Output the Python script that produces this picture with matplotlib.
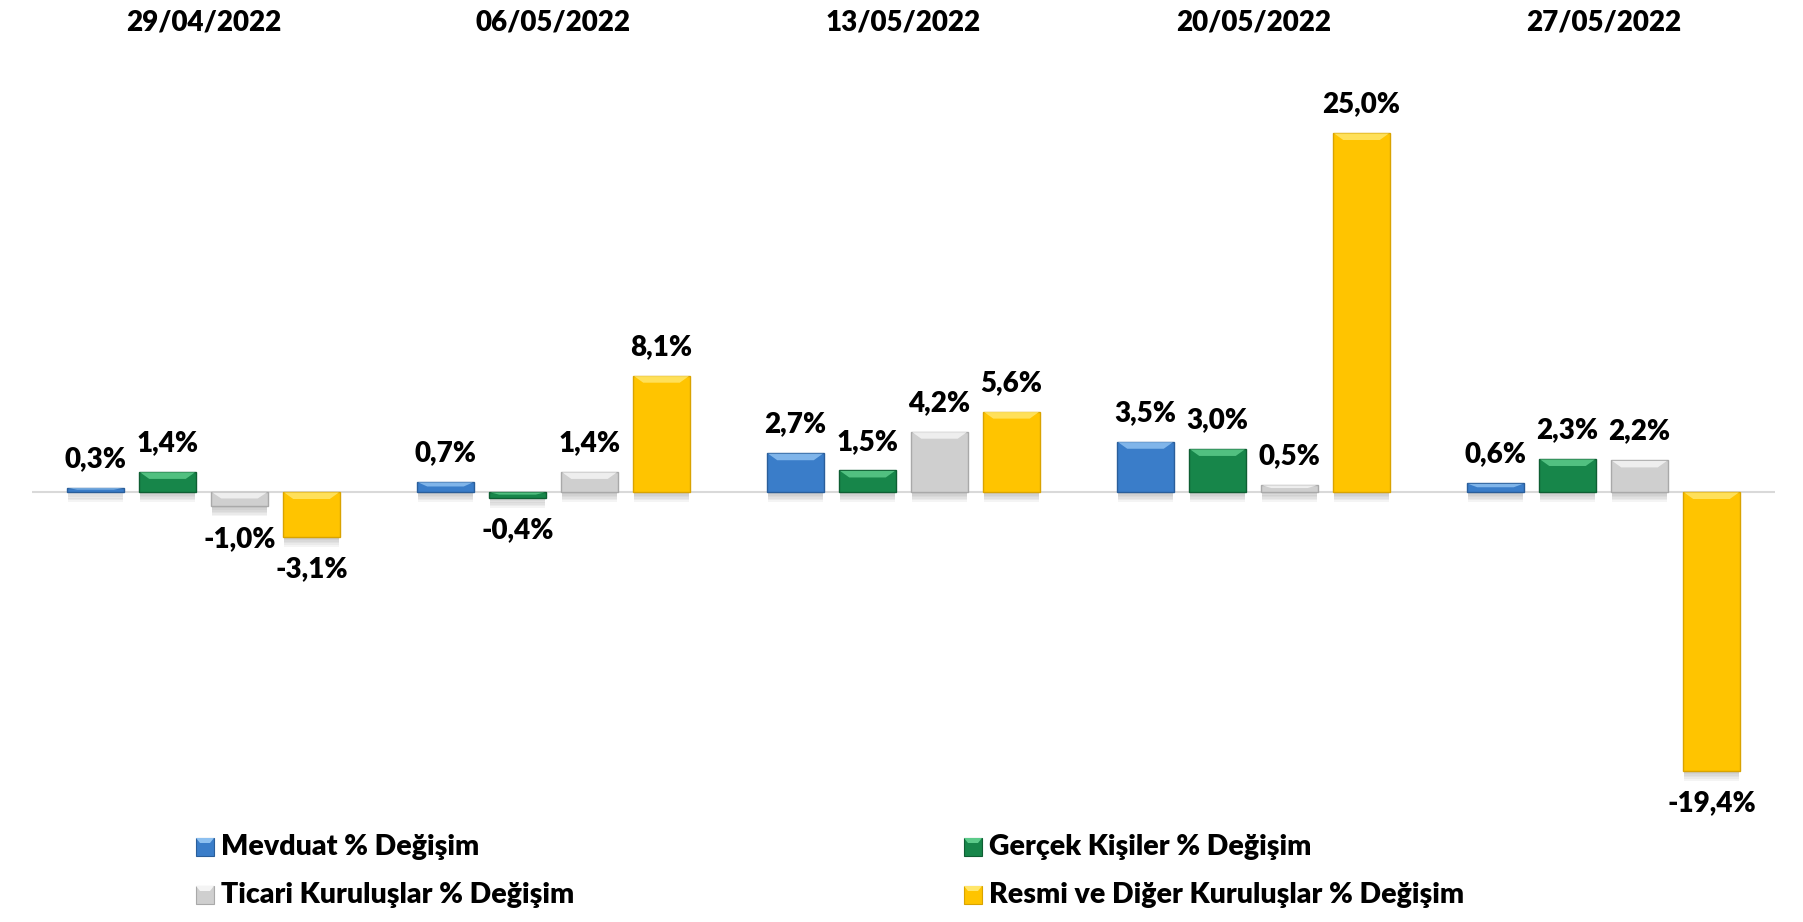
import matplotlib
matplotlib.use("Agg")
import matplotlib.pyplot as plt
from matplotlib.patches import Polygon, Rectangle
import numpy as np

dates = ["29/04/2022", "06/05/2022", "13/05/2022", "20/05/2022", "27/05/2022"]
series_names = ["Mevduat % Değişim", "Gerçek Kişiler % Değişim",
                "Ticari Kuruluşlar % Değişim", "Resmi ve Diğer Kuruluşlar % Değişim"]
mevduat = [0.3, 0.7, 2.7, 3.5, 0.6]
gercek = [1.4, -0.4, 1.5, 3.0, 2.3]
ticari = [-1.0, 1.4, 4.2, 0.5, 2.2]
resmi = [-3.1, 8.1, 5.6, 25.0, -19.4]

colors = ["#3A7DC9", "#17864A", "#CFCFCF", "#FFC400"]
light = ["#8DC0F0", "#5CCB8A", "#F4F4F4", "#FFE66A"]
dark = ["#2A5E9A", "#0F5E33", "#A9A9A9", "#D9A300"]

W, H = 1803, 922
fig = plt.figure(figsize=(W / 100, H / 100), dpi=100)
plt.rcParams['font.family'] = ['Lato', 'DejaVu Sans']
FW = 800

top_px, bot_px = 100, 800
ax = fig.add_axes([32 / W, 1 - bot_px / H, (1775 - 32) / W, (bot_px - top_px) / H])
ppu = 14.36
zero_px = 492
ax.set_ylim(-(bot_px - zero_px) / ppu, (zero_px - top_px) / ppu)
ax.set_xlim(-0.49, 4.49)
ax.axis("off")

ax.axhline(0, color="#D9D9D9", lw=1.5, zorder=1)

x = np.arange(len(dates))
step = 72 / 350
bw = 57 / 350
all_series = [mevduat, gercek, ticari, resmi]

for k, vals in enumerate(all_series):
    pos = x + (k - 1.5) * step
    # soft shadow
    for j, (p, v) in enumerate(zip(pos, vals)):
        for s in range(6):
            off = (2 + s * 1.6) / ppu
            ax.add_patch(Rectangle((p - bw / 2 + 0.004, min(0, v) - off), bw - 0.008,
                                   abs(v), facecolor="#707070", alpha=0.07,
                                   edgecolor="none", zorder=2))
    ax.bar(pos, vals, width=bw, color=colors[k], edgecolor=dark[k],
           linewidth=1.0, zorder=3, label=series_names[k])
    for p, v in zip(pos, vals):
        t = max(0, v)
        h = abs(v)
        bh = min(h * 0.45, 7 / ppu)
        d = min(0.03, bw * 0.18)
        ax.add_patch(Polygon([(p - bw / 2 + 0.003, t - 0.03), (p + bw / 2 - 0.003, t - 0.03),
                              (p + bw / 2 - d, t - bh), (p - bw / 2 + d, t - bh)],
                             closed=True, facecolor=light[k], edgecolor="none",
                             alpha=0.85, zorder=4))
        lab = f"{v:.1f}%".replace(".", ",")
        if v >= 0:
            ax.annotate(lab, (p, v), xytext=(0, 15), textcoords="offset points",
                        ha="center", va="baseline", fontsize=20, fontweight=FW,
                        color="black", zorder=6)
        else:
            ax.annotate(lab, (p, v), xytext=(0, -14), textcoords="offset points",
                        ha="center", va="top", fontsize=20, fontweight=FW,
                        color="black", zorder=6)

trans = matplotlib.transforms.blended_transform_factory(ax.transData, fig.transFigure)
for i, d in enumerate(dates):
    ax.text(x[i], 1 - 22 / H, d, transform=trans, ha="center", va="center",
            fontsize=20, fontweight=FW, color="black")

# legend
leg_pos = [(196, 847), (964, 847), (196, 895), (964, 895)]
for k, (lx, ly) in enumerate(leg_pos):
    sq = 18
    fig.add_artist(Rectangle((lx / W, 1 - (ly + sq / 2) / H), sq / W, sq / H,
                             transform=fig.transFigure, facecolor=colors[k],
                             edgecolor=dark[k], lw=0.8))
    fig.add_artist(Polygon([(lx / W, 1 - (ly - sq / 2) / H), ((lx + sq) / W, 1 - (ly - sq / 2) / H),
                            ((lx + sq - 4) / W, 1 - (ly - sq / 2 + 5) / H),
                            ((lx + 4) / W, 1 - (ly - sq / 2 + 5) / H)],
                           closed=True, transform=fig.transFigure,
                           facecolor=light[k], edgecolor="none"))
    fig.text((lx + 25) / W, 1 - ly / H, series_names[k], ha="left", va="center",
             fontsize=20.5, fontweight=FW, color="black")

fig.savefig("out.png", dpi=100, facecolor="white")
